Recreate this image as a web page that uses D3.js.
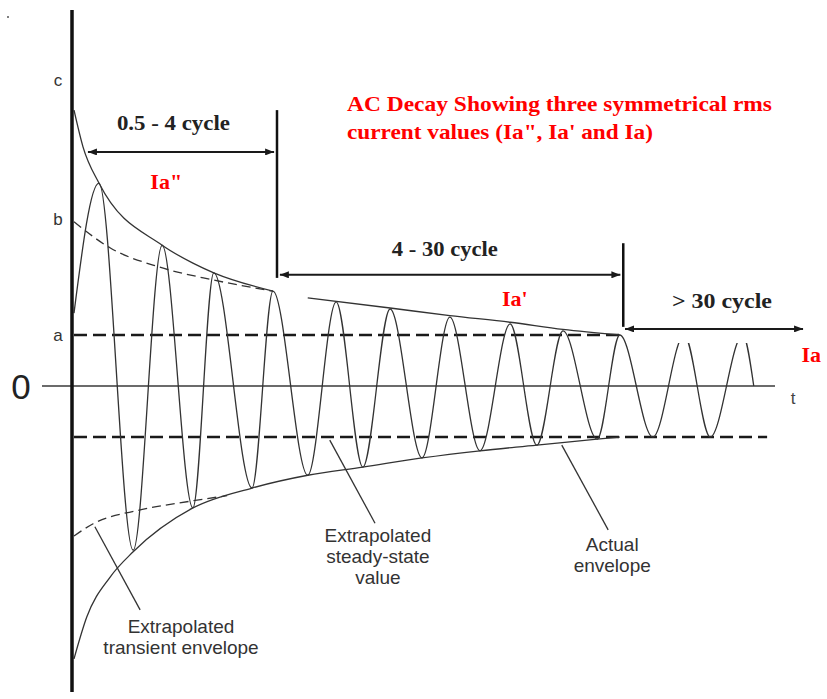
<!DOCTYPE html>
<html>
<head>
<meta charset="utf-8">
<script src="https://cdn.jsdelivr.net/npm/d3@7"></script>
<style>
  html, body { margin: 0; padding: 0; background: #fff; }
  svg { display: block; }
</style>
</head>
<body>
<svg id="chart" width="827" height="699"></svg>
<script>
// ---------------- DATA (t in cycles, value in units of steady-state peak "a") ----------------
const waveT = [0, 0.43, 1.02, 1.52, 2.05, 2.41, 3.07, 3.43, 4.03, 4.52, 4.98, 5.45, 6.00, 6.48, 7.00, 7.52, 7.98, 8.43, 9.02, 9.41, 9.98, 10.52, 10.97, 11.53, 11.72];
const waveV = [1.43, 3.98, -3.22, 2.76, -2.39, 2.22, -2.00, 1.86, -1.75, 1.65, -1.59, 1.51, -1.41, 1.35, -1.27, 1.22, -1.16, 1.08, -1.04, 1.00, -1.00, 1.00, -1.00, 1.00, 0];

const upperEnvT = [0, 0.155, 0.43, 1.52, 2.05, 2.41, 3.43];
const upperEnvV = [5.41, 4.69, 3.98, 2.76, 2.41, 2.22, 1.86];

const upperEnv2T = [4.03, 5.45, 6.48, 7.52, 8.43, 9.41];
const upperEnv2V = [1.73, 1.53, 1.38, 1.25, 1.11, 1.00];

const upperExtrapT = [0, 0.62, 1.48, 2.40, 3.43];
const upperExtrapV = [3.22, 2.71, 2.33, 2.08, 1.86];

const lowerEnvT = [0, 0.22, 0.62, 1.02, 2.05, 3.07, 4.03, 4.98, 6.00, 7.00, 7.98, 9.02, 9.41];
const lowerEnvV = [-5.35, -4.53, -3.75, -3.25, -2.39, -2.00, -1.75, -1.59, -1.41, -1.27, -1.16, -1.04, -1.00];

const lowerExtrapT = [0, 0.33, 1.14, 2.00, 2.64];
const lowerExtrapV = [-2.94, -2.70, -2.43, -2.26, -2.15];

const steadyLevels = [1.0, -1.0];
const steadyEnds = [9.47, 11.95];

const levelLabels = ["c", "b", "a"];
const levelValues = [6.0, 3.27, 1.0];

const periodLabels = ["0.5 - 4 cycle", "4 - 30 cycle", "> 30 cycle"];
const periodStart = [0.24, 3.55, 9.50];
const periodEnd = [3.45, 9.42, 12.57];
const currentLabels = ["Ia\"", "Ia'", "Ia"];
const titleLines = ["AC Decay Showing three symmetrical rms", "current values (Ia\", Ia' and Ia)"];
const noteLines = [
  ["Extrapolated", "transient envelope"],
  ["Extrapolated", "steady-state", "value"],
  ["Actual", "envelope"]
];

// ---------------- LAYOUT ----------------
const svg = d3.select("#chart");
svg.append("rect").attr("width", 827).attr("height", 699).attr("fill", "#fff");

const x = d3.scaleLinear().domain([0, 12.6]).range([74, 804.8]);
const y = d3.scaleLinear().domain([-6, 7.373]).range([692, 10]);

const SERIF = "'Liberation Serif','Times New Roman',serif";
const SANS = "'Liberation Sans',Arial,Helvetica,sans-serif";
const INK = "#1a1a1a";

const zip = (T, V) => T.map((t, i) => [t, V[i]]);
const line = d3.line().x(d => x(d[0])).y(d => y(d[1])).curve(d3.curveMonotoneX);

const defs = svg.append("defs");
defs.append("marker").attr("id", "ah").attr("viewBox", "0 0 9 7")
  .attr("refX", 9).attr("refY", 3.5).attr("markerWidth", 9).attr("markerHeight", 7)
  .attr("markerUnits", "userSpaceOnUse").attr("orient", "auto-start-reverse")
  .append("path").attr("d", "M0,0 L9,3.5 L0,7 Z").attr("fill", INK);

const cp = defs.append("clipPath").attr("id", "waveclip");
cp.append("rect").attr("x", 0).attr("y", 0).attr("width", 660).attr("height", 699);
cp.append("rect").attr("x", 660).attr("y", 343).attr("width", 167).attr("height", 356);

// zero line
svg.append("line").attr("x1", 42).attr("x2", 775).attr("y1", y(0)).attr("y2", y(0))
  .attr("stroke", "#3a3a3a").attr("stroke-width", 1.3);

// steady-state dashed lines
steadyLevels.forEach((v, i) => {
  svg.append("line").attr("x1", x(0)).attr("x2", x(steadyEnds[i])).attr("y1", y(v)).attr("y2", y(v))
    .attr("stroke", INK).attr("stroke-width", 2.6).attr("stroke-dasharray", "13,6");
});

// extrapolated transient envelopes (dashed)
[zip(upperExtrapT, upperExtrapV), zip(lowerExtrapT, lowerExtrapV)].forEach(d => {
  svg.append("path").attr("d", line(d)).attr("fill", "none")
    .attr("stroke", "#333").attr("stroke-width", 1.3).attr("stroke-dasharray", "9,5");
});

// actual envelopes (solid)
[zip(upperEnvT, upperEnvV), zip(upperEnv2T, upperEnv2V), zip(lowerEnvT, lowerEnvV)].forEach(d => {
  svg.append("path").attr("d", line(d)).attr("fill", "none")
    .attr("stroke", "#333").attr("stroke-width", 1.3);
});

// waveform
svg.append("path").attr("d", line(zip(waveT, waveV))).attr("fill", "none")
  .attr("stroke", "#333").attr("stroke-width", 1.3).attr("clip-path", "url(#waveclip)");

// vertical axis
svg.append("line").attr("x1", 72).attr("x2", 72).attr("y1", 10).attr("y2", 692)
  .attr("stroke", "#111").attr("stroke-width", 3.5);

// level labels
levelLabels.forEach((l, i) => {
  svg.append("text").attr("x", 58).attr("y", y(levelValues[i])).attr("dy", "0.35em")
    .attr("text-anchor", "middle").attr("font-family", SANS).attr("font-size", 17)
    .attr("fill", "#333").text(l);
});
svg.append("text").attr("x", 21).attr("y", y(0)).attr("dy", "0.36em").attr("text-anchor", "middle")
  .attr("font-family", SANS).attr("font-size", 35).attr("fill", "#222").text("0");
svg.append("text").attr("x", 793).attr("y", y(0) + 18).attr("text-anchor", "middle")
  .attr("font-family", SANS).attr("font-size", 17).attr("fill", "#444").text("t");

// period dividers
const bars = [[3.5, 5.41, 2.12], [9.47, 2.80, 1.16]];
bars.forEach(b => {
  svg.append("line").attr("x1", x(b[0])).attr("x2", x(b[0])).attr("y1", y(b[1])).attr("y2", y(b[2]))
    .attr("stroke", "#111").attr("stroke-width", 2.5);
});

// period arrows + labels
const arrowV = [4.59, 2.18, 1.12];
const periodTextPos = [[0.74, 5.02, 113], [5.48, 2.55, 106], [10.31, 1.53, 100]];
periodLabels.forEach((l, i) => {
  svg.append("line").attr("x1", x(periodStart[i])).attr("x2", x(periodEnd[i]))
    .attr("y1", y(arrowV[i])).attr("y2", y(arrowV[i]))
    .attr("stroke", INK).attr("stroke-width", 2)
    .attr("marker-start", "url(#ah)").attr("marker-end", "url(#ah)");
  svg.append("text").attr("x", x(periodTextPos[i][0])).attr("y", y(periodTextPos[i][1]))
    .attr("textLength", periodTextPos[i][2]).attr("lengthAdjust", "spacingAndGlyphs")
    .attr("font-family", SERIF).attr("font-weight", "bold").attr("font-size", 20)
    .attr("fill", "#222").text(l);
});

// current labels (red)
const curPos = [[1.59, 3.86], [7.60, 1.57], [12.71, 0.47]];
currentLabels.forEach((l, i) => {
  svg.append("text").attr("x", x(curPos[i][0])).attr("y", y(curPos[i][1])).attr("text-anchor", "middle")
    .attr("font-family", SERIF).attr("font-weight", "bold").attr("font-size", 22)
    .attr("fill", "#ff0000").text(l);
});

// title
const titleWidths = [425, 306];
titleLines.forEach((l, i) => {
  svg.append("text").attr("x", 347).attr("y", 111 + i * 28)
    .attr("textLength", titleWidths[i]).attr("lengthAdjust", "spacingAndGlyphs")
    .attr("font-family", SERIF).attr("font-weight", "bold").attr("font-size", 21)
    .attr("fill", "#ff0000").text(l);
});

// annotations
const leaders = [[0.36, -2.76, 1.14, -4.39], [4.41, -1.06, 5.19, -2.69], [8.41, -1.16, 9.21, -2.82]];
const noteCenter = [[1.845, -4.84], [5.24, -3.06], [9.28, -3.24]];
leaders.forEach((d, i) => {
  svg.append("line").attr("x1", x(d[0])).attr("y1", y(d[1])).attr("x2", x(d[2])).attr("y2", y(d[3]))
    .attr("stroke", "#333").attr("stroke-width", 1.3);
  const t = svg.append("text").attr("text-anchor", "middle")
    .attr("font-family", SANS).attr("font-size", 19).attr("fill", "#333");
  noteLines[i].forEach((s, j) => {
    t.append("tspan").attr("x", x(noteCenter[i][0])).attr("y", y(noteCenter[i][1]) + j * 21).text(s);
  });
});

// stray dot in the original
svg.append("circle").attr("cx", 8).attr("cy", 17).attr("r", 1).attr("fill", "#555");
</script>
</body>
</html>
